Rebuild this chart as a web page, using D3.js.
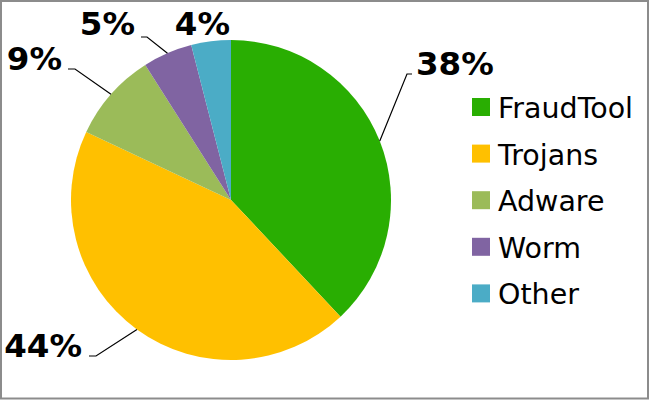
<!DOCTYPE html>
<html>
<head>
<meta charset="utf-8">
<script src="https://cdn.jsdelivr.net/npm/d3@7"></script>
<style>
  html, body { margin: 0; padding: 0; background: #fff; }
  svg { display: block; }
</style>
</head>
<body>
<svg id="chart" width="650" height="400"></svg>
<script>
const categories = ["FraudTool", "Trojans", "Adware", "Worm", "Other"];
const values = [38, 44, 9, 5, 4];
const percentLabels = ["38%", "44%", "9%", "5%", "4%"];
const colors = ["#29ae02", "#ffc000", "#9bbb59", "#8064a2", "#4bacc6"];

// label layout: elbow of leader (ex,ey), tick end (kx), text anchor point (tx,ty)
const labelLayout = [
  { ex: 407, ey: 74, kx: 412, tx: 416, ty: 75, anchor: "start", leader: true },
  { ex: 96, ey: 356, kx: 89, tx: 82, ty: 357, anchor: "end", leader: true },
  { ex: 75, ey: 69, kx: 68, tx: 62, ty: 70, anchor: "end", leader: true },
  { ex: 147, ey: 37, kx: 141, tx: 135, ty: 35, anchor: "end", leader: true },
  { ex: 0, ey: 0, kx: 0, tx: 230, ty: 35, anchor: "end", leader: false }
];

const svg = d3.select("#chart");
const W = 650, H = 400;

svg.append("rect")
  .attr("x", 1).attr("y", 1)
  .attr("width", W - 3).attr("height", H - 2.5)
  .attr("fill", "#fff")
  .attr("stroke", "#8c8c8c")
  .attr("stroke-width", 2);

const cx = 231, cy = 200, r = 160;
const g = svg.append("g").attr("transform", `translate(${cx},${cy})`);

const pie = d3.pie().sort(null).value(d => d)(values);
const arc = d3.arc().innerRadius(0).outerRadius(r);
const edgeArc = d3.arc().innerRadius(r).outerRadius(r);

g.selectAll("path.slice")
  .data(pie)
  .join("path")
  .attr("class", "slice")
  .attr("d", arc)
  .attr("fill", (d, i) => colors[i]);

// labels and leaders
const lg = svg.append("g");
pie.forEach((d, i) => {
  const L = labelLayout[i];
  const [px, py] = edgeArc.centroid(d);
  if (L.leader) {
    lg.append("polyline")
      .attr("points", `${px + cx},${py + cy} ${L.ex},${L.ey} ${L.kx},${L.ey}`)
      .attr("fill", "none")
      .attr("stroke", "#000")
      .attr("stroke-width", 1.2);
  }
  lg.append("text")
    .attr("x", L.tx)
    .attr("y", L.ty)
    .attr("text-anchor", L.anchor)
    .attr("font-family", "DejaVu Sans, Verdana, sans-serif")
    .attr("font-weight", "bold")
    .attr("font-size", 32.5)
    .attr("fill", "#000")
    .text(percentLabels[i]);
});

// legend
const legend = svg.append("g").attr("transform", "translate(472,107)");
const step = 46.6;
categories.forEach((c, i) => {
  const row = legend.append("g").attr("transform", `translate(0,${i * step})`);
  row.append("rect")
    .attr("x", 0).attr("y", -9)
    .attr("width", 18).attr("height", 18)
    .attr("fill", colors[i]);
  row.append("text")
    .attr("x", 26).attr("y", 11)
    .attr("font-family", "DejaVu Sans, Verdana, sans-serif")
    .attr("font-size", 28.5)
    .attr("fill", "#000")
    .text(c);
});
</script>
</body>
</html>
